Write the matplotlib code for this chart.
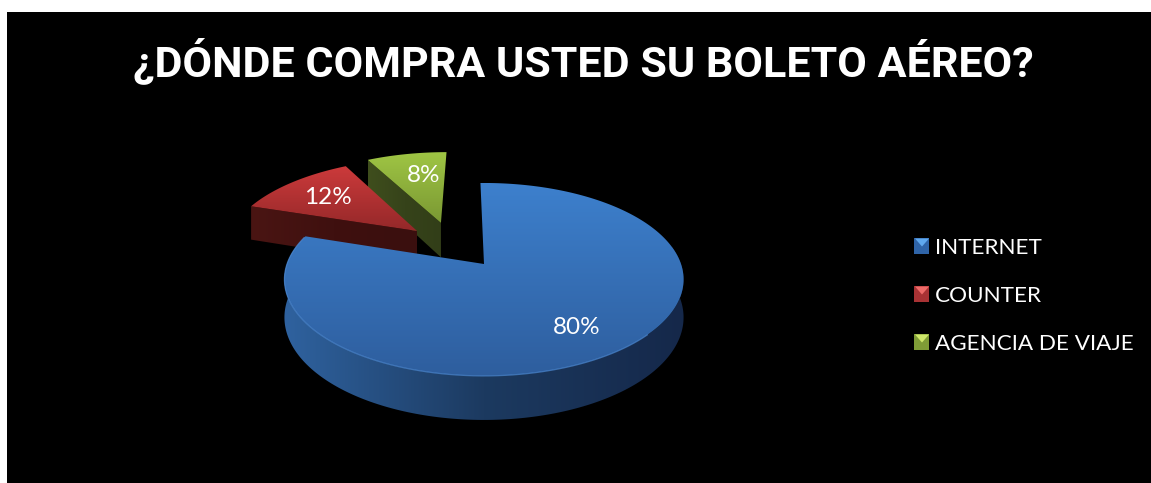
import numpy as np
import matplotlib
matplotlib.use("Agg")
import matplotlib.pyplot as plt
from matplotlib.patches import Polygon, Rectangle
from matplotlib.colors import LinearSegmentedColormap

title = "¿DÓNDE COMPRA USTED SU BOLETO AÉREO?"
categories = ["INTERNET", "COUNTER", "AGENCIA DE VIAJE"]
values = [80, 12, 8]
labels = ["80%", "12%", "8%"]

# disc-space explosion of each slice
explode = [(0.0, 0.0), (-0.36, 0.372), (-0.235, 0.47)]
top_cols = [("#3d80cd", "#2e5e9e"), ("#cc3a3b", "#942829"), ("#9fc544", "#7a9833")]
side_cols = [("#2f629f", "#1c3a60", "#15284a"), ("#4a1513", "#3f100f", "#3a0f0e"), ("#3f4e1d", "#36431a", "#323e18")]
label_pos = [(577, 327), (328, 197), (424, 175)]
legend_y = [246, 294, 342]
legend_fill = ["#2f64a8", "#a83234", "#7f9c36"]
legend_light = ["#5fa8ee", "#ee6a68", "#cfe86a"]

CX, CY = 484, 264
A, B, C = 94.0, 0.16, 197.0
DEPTH = 37.0
ROT = -1.2

fig = plt.figure(figsize=(11.51, 4.83), dpi=100, facecolor="white")
ax = fig.add_axes([0, 0, 1, 1])
ax.set_xlim(0, 1151)
ax.set_ylim(483, 0)
ax.axis("off")
plt.rcParams["font.family"] = ["Lato", "DejaVu Sans"]
ax.add_patch(Rectangle((7, 12), 1144, 471, fc="black", ec="none", zorder=0))


def proj(x, y, z=0.0):
    d = 1 + B * y
    return CX + C * x / d, CY - A * y / d + z * DEPTH / d


def cmap(*cols):
    return LinearSegmentedColormap.from_list("c", cols)


def fill(poly_xy, grad, cols, z):
    xs, ys = poly_xy[:, 0], poly_xy[:, 1]
    x0, x1, y0, y1 = xs.min(), xs.max(), ys.min(), ys.max()
    g = np.linspace(0, 1, 256)
    arr = g[:, None] if grad == "v" else g[None, :]
    im = ax.imshow(arr, cmap=cmap(*cols), extent=(x0, x1, y1, y0), origin="upper",
                   aspect="auto", zorder=z, interpolation="bilinear")
    p = Polygon(poly_xy, closed=True, transform=ax.transData, fc="none", ec="none")
    ax.add_patch(p)
    im.set_clip_path(p)


fracs = np.array(values) / sum(values)
starts = np.concatenate([[0], np.cumsum(fracs)[:-1]]) * 360
order = [2, 1, 0]
for k, i in enumerate(order):
    base = 10 + k * 5
    a0 = starts[i] + (ROT if i == 0 else 0)
    a = np.radians(np.linspace(a0, starts[i] + fracs[i] * 360, 300))
    ex, ey = explode[i]
    rx, ry = np.sin(a) + ex, np.cos(a) + ey
    if i == 0:
        m = ry < 0.2
        tx, ty = proj(rx[m], ry[m], 0)
        bx, by = proj(rx[m], ry[m], 1)
        rim = np.r_[np.c_[tx, ty], np.c_[bx, by][::-1]]
        fill(rim, "h", side_cols[i], base)
    else:
        fx, fy = proj(np.array([ex, rx[0]]), np.array([ey, ry[0]]), 0)
        gx, gy = proj(np.array([ex, rx[0]]), np.array([ey, ry[0]]), 1)
        fill(np.r_[np.c_[fx, fy], np.c_[gx, gy][::-1]], "h", side_cols[i], base)
    tx, ty = proj(np.r_[ex, rx], np.r_[ey, ry], 0)
    fill(np.c_[tx, ty], "v", top_cols[i], base + 1)
    if i == 0:
        hx, hy = proj(rx, ry, 0)
        m = (ry < 0.3) & (rx < 0.75)
        ax.plot(hx[m], hy[m], color="#4d8ad4", lw=0.9, zorder=base + 2, alpha=0.7)
    ax.text(*label_pos[i], labels[i], color="white", fontsize=17.5, ha="center",
            va="center", zorder=40)

ax.text(583, 62, title, color="white", fontsize=31, fontweight="bold", ha="center",
        va="center", zorder=40, family=["Roboto", "DejaVu Sans"])

for name, y, f, l in zip(categories, legend_y, legend_fill, legend_light):
    ax.add_patch(Rectangle((914, y - 8), 15.5, 16, fc=f, ec="none", zorder=30))
    ax.add_patch(Polygon([(915, y - 7.5), (929, y - 7.5), (922, y + 0.5)], fc=l, ec="none", zorder=31))
    ax.text(935, y + 1.5, name, color="white", fontsize=16.2, ha="left", va="center", zorder=40)

ax.set_xlim(0, 1151)
ax.set_ylim(483, 0)
fig.savefig("out.png", dpi=100, facecolor="white")
